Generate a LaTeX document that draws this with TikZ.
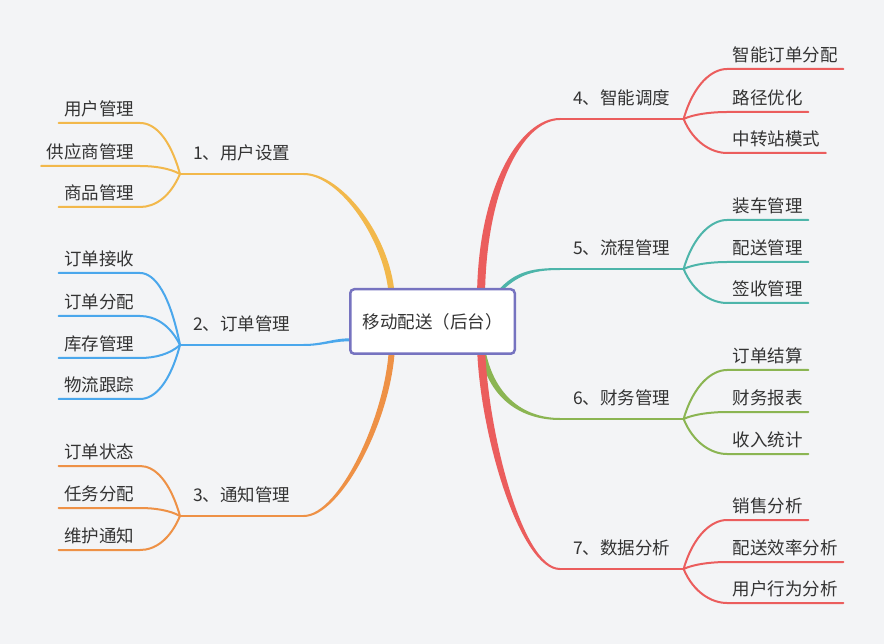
\documentclass[tikz,border=0pt]{standalone}
\usepackage{fontspec}
\setmainfont{Noto Sans CJK SC}
\definecolor{bg}{HTML}{F3F4F6}
\definecolor{ink}{HTML}{333333}
\definecolor{cYellow}{HTML}{F2B84B}
\definecolor{cBlue}{HTML}{4AA7EC}
\definecolor{cOrange}{HTML}{EE9146}
\definecolor{cRed}{HTML}{EB5D5D}
\definecolor{cTeal}{HTML}{4DB5AA}
\definecolor{cGreen}{HTML}{8BB552}
\definecolor{cFrame}{HTML}{7673C0}
\begin{document}
\begin{tikzpicture}[x=1pt,y=-1pt,font=\fontsize{17.5}{21}\selectfont,text=ink,
    leaf/.style={inner xsep=5.5pt,inner ysep=3.35pt,text height=13pt,text depth=4pt},
    topic/.style={inner xsep=13pt,inner ysep=10.35pt,text height=13pt,text depth=4pt},
    twig/.style={line width=2pt,line cap=round},
    rootbox/.style={draw=cFrame,line width=2.5pt,fill=white,rounded corners=4pt,minimum width=164.5pt,minimum height=64.5pt}]
    \fill[bg] (0,0) rectangle (884,644);
    % ends of the branches under the box
    \coordinate (r1) at (392,300);
    \coordinate (r2) at (352,340);
    \coordinate (r3) at (392,345);
    \coordinate (r4) at (481,300);
    \coordinate (r5) at (495,296);
    \coordinate (r6) at (482,348);
    \coordinate (r7) at (481,345);
    % topics
    \node[topic,anchor=south west] (b1) at (180,174) {1、用户设置};
    \node[topic,anchor=south west] (b2) at (180,345) {2、订单管理};
    \node[topic,anchor=south west] (b3) at (180,516) {3、通知管理};
    \node[topic,anchor=south west] (b4) at (560,119) {4、智能调度};
    \node[topic,anchor=south west] (b5) at (560,269) {5、流程管理};
    \node[topic,anchor=south west] (b6) at (560,419) {6、财务管理};
    \node[topic,anchor=south west] (b7) at (560,569) {7、数据分析};
    \draw[twig,cYellow] (b1.south west) -- (b1.south east);
    \draw[twig,cBlue] (b2.south west) -- (b2.south east);
    \draw[twig,cOrange] (b3.south west) -- (b3.south east);
    \draw[twig,cRed] (b4.south west) -- (b4.south east);
    \draw[twig,cTeal] (b5.south west) -- (b5.south east);
    \draw[twig,cGreen] (b6.south west) -- (b6.south east);
    \draw[twig,cRed] (b7.south west) -- (b7.south east);
    % thick branches
    \fill[cYellow] ([xshift=3pt]r1) .. controls +(-2,-62) and +(38,0) .. ([yshift=1pt]b1.south east) -- ([yshift=-1pt]b1.south east) .. controls +(36,0) and +(-2,-58) .. ([xshift=-3pt]r1) -- cycle;
    \fill[cBlue] ([yshift=1.5pt]r2) .. controls +(-17,-1) and +(20,0) .. ([yshift=1pt]b2.south east) -- ([yshift=-1pt]b2.south east) .. controls +(20,0) and +(-17,-1) .. ([yshift=-1.5pt]r2) -- cycle;
    \fill[cOrange] ([xshift=3pt]r3) .. controls +(-2,72) and +(38,0) .. ([yshift=-1pt]b3.south east) -- ([yshift=1pt]b3.south east) .. controls +(36,0) and +(-2,68) .. ([xshift=-3pt]r3) -- cycle;
    \fill[cRed] ([xshift=-4pt]r4) .. controls +(0,-112) and +(-40,0) .. ([yshift=1pt]b4.south west) -- ([yshift=-1pt]b4.south west) .. controls +(-38,0) and +(0,-108) .. ([xshift=4pt]r4) -- cycle;
    \fill[cTeal] ([yshift=2pt]r5) .. controls +(18,-22) and +(-30,0) .. ([yshift=1pt]b5.south west) -- ([yshift=-1pt]b5.south west) .. controls +(-30,0) and +(20,-22) .. ([yshift=-2pt]r5) -- cycle;
    \fill[cGreen] ([xshift=-3pt]r6) .. controls +(8,50) and +(-40,0) .. ([yshift=-1pt]b6.south west) -- ([yshift=1pt]b6.south west) .. controls +(-38,0) and +(8,46) .. ([xshift=3pt]r6) -- cycle;
    \fill[cRed] ([xshift=-4pt]r7) .. controls +(2,88) and +(-40,0) .. ([yshift=-1pt]b7.south west) -- ([yshift=1pt]b7.south west) .. controls +(-38,0) and +(2,84) .. ([xshift=4pt]r7) -- cycle;
    % root
    \node[rootbox] (root) at (432.5,321.5) {移动配送（后台）};
    % leaves, left side
    \foreach \t/\y [count=\i] in {用户管理/123,供应商管理/166,商品管理/207}{
        \node[leaf,anchor=south east] (u\i) at (140,\y) {\t};
        \draw[twig,cYellow] (u\i.south west) -- (u\i.south east) .. controls +(15,0) and +(-10,{0.7*(\y-174)}) .. (b1.south west);
    }
    \foreach \t/\y [count=\i] in {订单接收/273,订单分配/316,库存管理/358,物流跟踪/399}{
        \node[leaf,anchor=south east] (o\i) at (140,\y) {\t};
        \draw[twig,cBlue] (o\i.south west) -- (o\i.south east) .. controls +(15,0) and +(-10,{0.7*(\y-345)}) .. (b2.south west);
    }
    \foreach \t/\y [count=\i] in {订单状态/466,任务分配/508,维护通知/550}{
        \node[leaf,anchor=south east] (t\i) at (140,\y) {\t};
        \draw[twig,cOrange] (t\i.south west) -- (t\i.south east) .. controls +(15,0) and +(-10,{0.7*(\y-516)}) .. (b3.south west);
    }
    % leaves, right side
    \foreach \t/\y [count=\i] in {智能订单分配/69,路径优化/112,中转站模式/153}{
        \node[leaf,anchor=south west] (d\i) at (727,\y) {\t};
        \draw[twig,cRed] (d\i.south east) -- (d\i.south west) .. controls +(-15,0) and +(10,{0.7*(\y-119)}) .. (b4.south east);
    }
    \foreach \t/\y [count=\i] in {装车管理/220,配送管理/262,签收管理/303}{
        \node[leaf,anchor=south west] (p\i) at (727,\y) {\t};
        \draw[twig,cTeal] (p\i.south east) -- (p\i.south west) .. controls +(-15,0) and +(10,{0.7*(\y-269)}) .. (b5.south east);
    }
    \foreach \t/\y [count=\i] in {订单结算/370,财务报表/412,收入统计/454}{
        \node[leaf,anchor=south west] (f\i) at (727,\y) {\t};
        \draw[twig,cGreen] (f\i.south east) -- (f\i.south west) .. controls +(-15,0) and +(10,{0.7*(\y-419)}) .. (b6.south east);
    }
    \foreach \t/\y [count=\i] in {销售分析/520,配送效率分析/562,用户行为分析/603}{
        \node[leaf,anchor=south west] (s\i) at (727,\y) {\t};
        \draw[twig,cRed] (s\i.south east) -- (s\i.south west) .. controls +(-15,0) and +(10,{0.7*(\y-569)}) .. (b7.south east);
    }
\end{tikzpicture}
\end{document}
